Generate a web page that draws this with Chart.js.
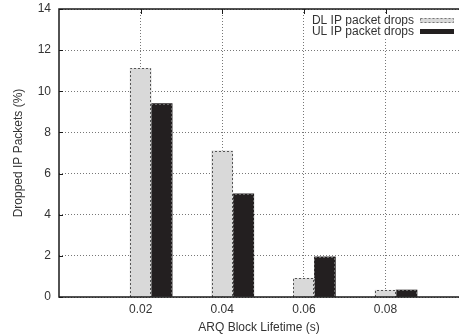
<!DOCTYPE html>
<html>
<head>
<meta charset="utf-8">
<script src="https://cdn.jsdelivr.net/npm/chart.js@4/dist/chart.umd.min.js"></script>
<style>
  html, body { margin: 0; padding: 0; background: #fff; overflow: hidden; }
  canvas { display: block; }
</style>
</head>
<body>
<canvas id="chart" width="459" height="335"></canvas>
<script>
// ARQ block lifetime (s) on the x axis
const lifetimes = [0.02, 0.04, 0.06, 0.08];
// Dropped IP packets (%) per direction
const dlDrops = [11.12, 7.11, 0.91, 0.33];
const ulDrops = [9.40, 5.02, 1.95, 0.34];
const yTicks = [0, 2, 4, 6, 8, 10, 12, 14];
const seriesNames = ['DL IP packet drops', 'UL IP packet drops'];
const xTitle = 'ARQ Block Lifetime (s)';
const yTitle = 'Dropped IP Packets (%)';

// Styling and layout
const FONT_FAMILY = '"Liberation Sans", Arial, Helvetica, sans-serif';
const TEXT_COLOR = '#333';
const DL_FILL = '#d9d9d9';
const UL_FILL = '#231f20';
const GRID_COLOR = '#777';
const FRAME_COLOR = '#1a1a1a';
const BAR_PX = 21;
const X_MIN = 0, X_MAX = 0.098;
const Y_AXIS_WIDTH = 59, X_AXIS_HEIGHT = 38, TOP_PAD = 9;
const PLOT_WIDTH = 459 - Y_AXIS_WIDTH;
// the bar axis is shifted by half a bar so the DL bar is centred on its tick
const HALF_BAR_UNITS = (BAR_PX / 2) * (X_MAX - X_MIN) / PLOT_WIDTH;

const font = { family: FONT_FAMILY, size: 12 };

function strokeSeg(ctx, x1, y1, x2, y2) {
  ctx.beginPath();
  ctx.moveTo(x1, y1);
  ctx.lineTo(x2, y2);
  ctx.stroke();
}

function fixSize(prop, size) {
  return s => {
    s[prop] = size;
    s.paddingTop = 0;
    s.paddingBottom = 0;
    s.paddingLeft = 0;
    s.paddingRight = 0;
  };
}

const framePlugin = {
  id: 'frame',
  beforeDatasetsDraw(chart) {
    const { ctx, chartArea: a, scales } = chart;
    ctx.save();
    ctx.strokeStyle = FRAME_COLOR;
    ctx.lineWidth = 1;
    // inward tick marks
    yTicks.forEach(v => {
      const y = Math.round(scales.y.getPixelForValue(v)) + 0.5;
      strokeSeg(ctx, a.left, y, a.left + 4, y);
    });
    lifetimes.forEach(v => {
      const x = Math.round(scales.x.getPixelForValue(v)) + 0.5;
      strokeSeg(ctx, x, a.top, x, a.top + 5);
      strokeSeg(ctx, x, a.bottom, x, a.bottom - 5);
    });
    ctx.restore();
  },
  afterDatasetsDraw(chart) {
    const { ctx, chartArea: a } = chart;
    ctx.save();
    // dotted outline around each bar
    ctx.setLineDash([2, 2]);
    ctx.lineWidth = 1;
    [0, 1].forEach(di => {
      ctx.strokeStyle = di === 0 ? '#555' : '#666';
      chart.getDatasetMeta(di).data.forEach(el => {
        const p = el.getProps(['x', 'y', 'base', 'width'], true);
        const l = Math.round(p.x - p.width / 2) + 0.5;
        const r = Math.round(p.x + p.width / 2) - 0.5;
        const t = Math.round(p.y) + 0.5;
        const b = Math.round(p.base);
        ctx.beginPath();
        ctx.moveTo(l, b);
        ctx.lineTo(l, t);
        ctx.lineTo(r, t);
        ctx.lineTo(r, b);
        ctx.stroke();
      });
    });
    // solid frame: left, top, bottom
    ctx.setLineDash([]);
    ctx.strokeStyle = FRAME_COLOR;
    ctx.lineWidth = 1.5;
    ctx.beginPath();
    ctx.moveTo(a.right, a.top);
    ctx.lineTo(a.left, a.top);
    ctx.lineTo(a.left, a.bottom);
    ctx.lineTo(a.right, a.bottom);
    ctx.stroke();
    ctx.restore();
  },
  afterDraw(chart) {
    const { ctx } = chart;
    ctx.save();
    ctx.font = `12px ${FONT_FAMILY}`;
    ctx.textAlign = 'right';
    ctx.textBaseline = 'middle';
    const rows = [
      { y: 21, fill: DL_FILL, dotted: true },
      { y: 32, fill: UL_FILL, dotted: false }
    ];
    rows.forEach((row, i) => {
      ctx.fillStyle = '#fff';
      ctx.fillRect(310, row.y - 6, 146, 11);
      ctx.fillStyle = TEXT_COLOR;
      ctx.fillText(seriesNames[i], 414, row.y);
      ctx.fillStyle = row.fill;
      ctx.fillRect(420, row.y - 3, 34, 5);
      if (row.dotted) {
        ctx.strokeStyle = '#777';
        ctx.setLineDash([2, 2]);
        ctx.lineWidth = 1;
        ctx.strokeRect(420.5, row.y - 2.5, 33, 4);
        ctx.setLineDash([]);
      }
    });
    ctx.restore();
  }
};

function barData(values) {
  return lifetimes.map((x, i) => ({ x, y: values[i] }));
}

new Chart(document.getElementById('chart'), {
  type: 'bar',
  data: {
    datasets: [
      {
        label: seriesNames[0],
        data: barData(dlDrops),
        backgroundColor: DL_FILL,
        borderWidth: 0,
        barThickness: BAR_PX,
        xAxisID: 'xb',
        yAxisID: 'y'
      },
      {
        label: seriesNames[1],
        data: barData(ulDrops),
        backgroundColor: UL_FILL,
        borderWidth: 0,
        barThickness: BAR_PX,
        xAxisID: 'xb',
        yAxisID: 'y'
      }
    ]
  },
  options: {
    responsive: false,
    animation: false,
    devicePixelRatio: 1,
    layout: { padding: { top: TOP_PAD, left: 0, right: 0, bottom: 0 } },
    plugins: {
      legend: { display: false },
      tooltip: { enabled: false }
    },
    scales: {
      x: {
        type: 'linear',
        position: 'bottom',
        offset: false,
        min: X_MIN,
        max: X_MAX,
        afterBuildTicks: s => { s.ticks = lifetimes.map(v => ({ value: v })); },
        afterFit: fixSize('height', X_AXIS_HEIGHT),
        ticks: {
          font, color: TEXT_COLOR, padding: 5, maxRotation: 0, autoSkip: false,
          callback: v => v.toFixed(2)
        },
        grid: { color: GRID_COLOR, lineWidth: 1, drawTicks: false, offset: false },
        border: { display: false, dash: [1, 2] },
        title: {
          display: true, text: xTitle, font, color: TEXT_COLOR,
          padding: { top: 0, bottom: 0 }
        }
      },
      xb: {
        type: 'linear',
        position: 'bottom',
        display: false,
        offset: false,
        grid: { offset: false },
        min: X_MIN - HALF_BAR_UNITS,
        max: X_MAX - HALF_BAR_UNITS
      },
      y: {
        type: 'linear',
        min: 0,
        max: 14,
        afterBuildTicks: s => { s.ticks = yTicks.map(v => ({ value: v })); },
        afterFit: fixSize('width', Y_AXIS_WIDTH),
        ticks: { font, color: TEXT_COLOR, padding: 8 },
        grid: { color: GRID_COLOR, lineWidth: 1, drawTicks: false },
        border: { display: false, dash: [1, 2] },
        title: {
          display: true, text: yTitle, font, color: TEXT_COLOR,
          padding: { top: 11, bottom: 0 }
        }
      }
    }
  },
  plugins: [framePlugin]
});
</script>
</body>
</html>
